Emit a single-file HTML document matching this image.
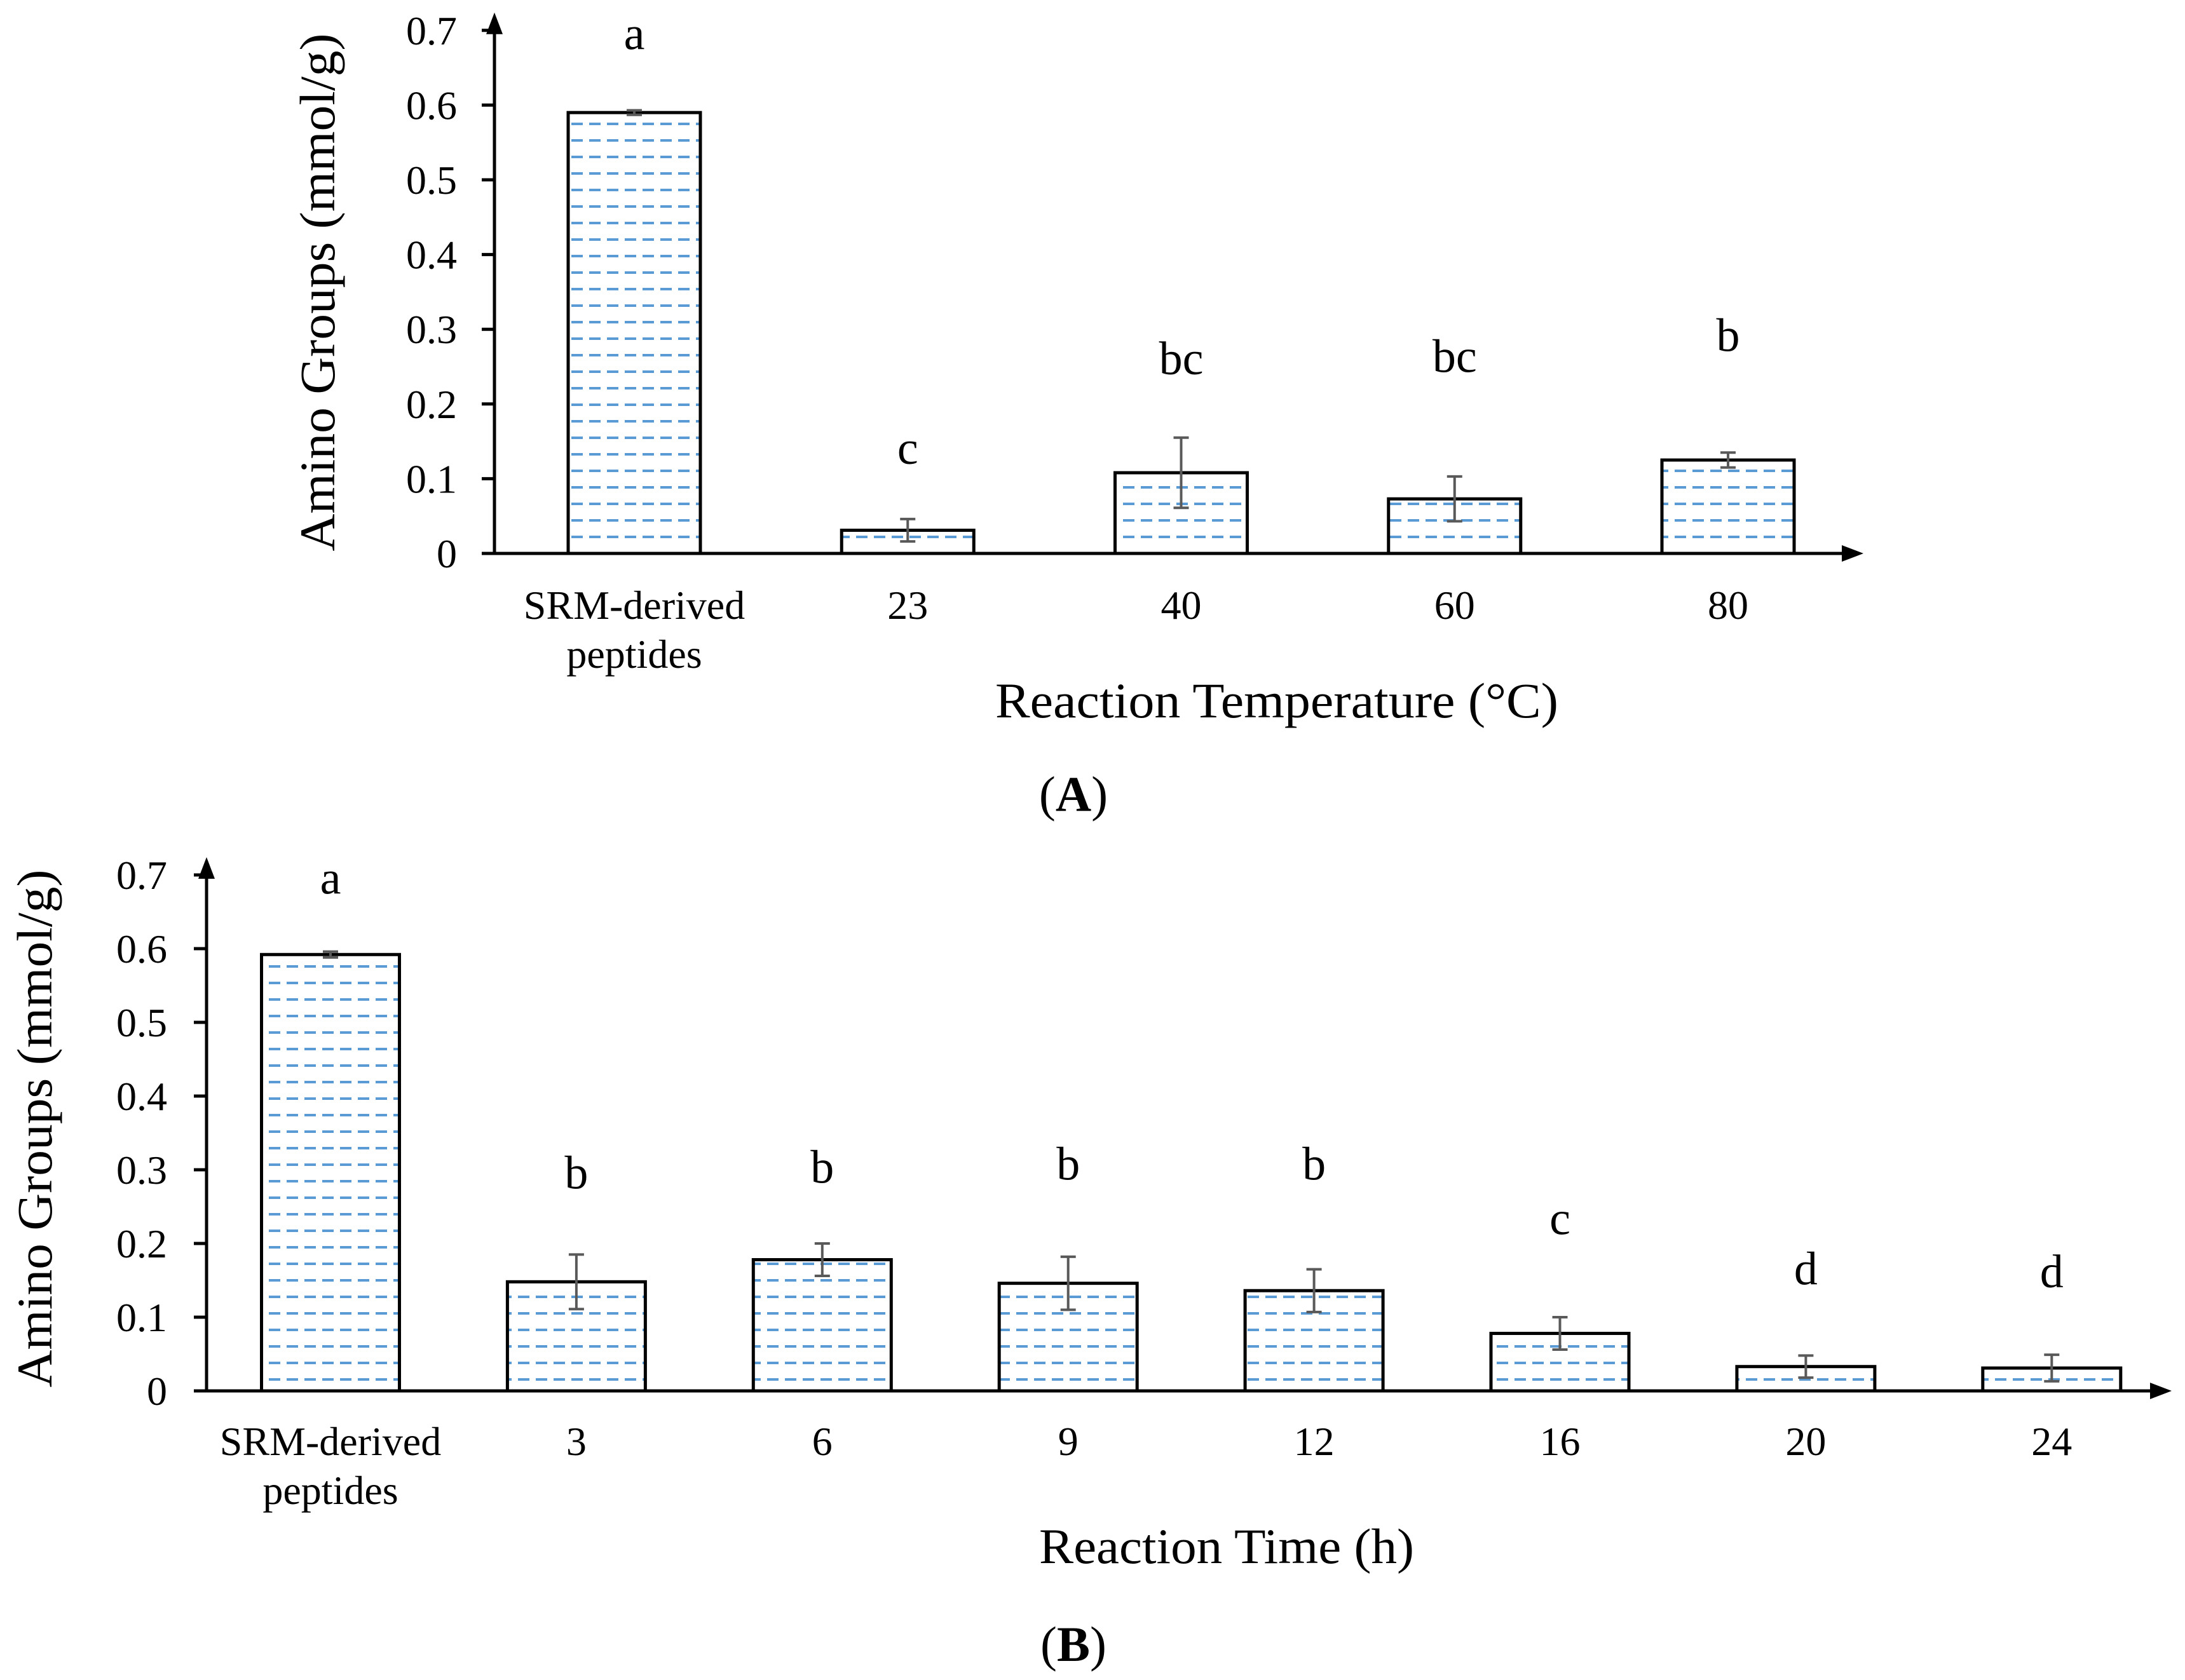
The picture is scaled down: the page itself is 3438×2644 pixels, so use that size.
<!DOCTYPE html>
<html><head><meta charset="utf-8"><style>
html,body{margin:0;padding:0;background:#fff;}
svg{display:block;font-family:"Liberation Serif",serif;}
</style></head><body>
<svg id="fig" width="3438" height="2644" viewBox="0 0 3438 2644" xmlns="http://www.w3.org/2000/svg">
<defs>
<pattern id="hatch" patternUnits="userSpaceOnUse" width="28" height="26">
<line x1="3" y1="13" x2="21" y2="13" stroke="#5b9bd5" stroke-width="4"/>
</pattern>
</defs>
</svg>
<script>
// ---- Chart A data ----
const catsA = ["SRM-derived|peptides","23","40","60","80"];
const valsA = [0.59, 0.031, 0.108, 0.073, 0.125];
const errA = [0.003, 0.015, 0.047, 0.03, 0.01];
const lettersA = ["a","c","bc","bc","b"];
const letterValA = [0.69, 0.135, 0.255, 0.258, 0.286];
// ---- Chart B data ----
const catsB = ["SRM-derived|peptides","3","6","9","12","16","20","24"];
const valsB = [0.592, 0.148, 0.178, 0.146, 0.136, 0.078, 0.033, 0.031];
const errB = [0.004, 0.037, 0.022, 0.036, 0.029, 0.022, 0.015, 0.018];
const lettersB = ["a","b","b","b","b","c","d","d"];
const letterValB = [0.69, 0.29, 0.298, 0.302, 0.302, 0.228, 0.16, 0.156];
const ticks = [0,0.1,0.2,0.3,0.4,0.5,0.6,0.7];
const tickLabels = ["0","0.1","0.2","0.3","0.4","0.5","0.6","0.7"];

const svg = document.getElementById('fig');
const NS = "http://www.w3.org/2000/svg";
function mk(tag, attrs, parent){
  const e = document.createElementNS(NS, tag);
  for (const k in attrs) e.setAttribute(k, attrs[k]);
  (parent||svg).appendChild(e);
  return e;
}

function chart(cfg){
  const g = mk('g', {});
  
  
  const y = v => cfg.y0 - v / 0.1 * cfg.per;
  const x = i => cfg.x0 + i * cfg.step;
  cfg.vals.forEach((v,i)=>{
    const b = mk('rect', {x:x(i)-cfg.bw/2, y:y(v), width:cfg.bw, height:cfg.y0-y(v), fill:'url(#hatch)', stroke:'#000', 'stroke-width':5}, g);
    
    
  });
  cfg.vals.forEach((v,i)=>{
    const e = cfg.err[i], cx = x(i);
    const eg = mk('g', {stroke:'#595959','stroke-width':4}, g);
    
    
    mk('line',{x1:cx,x2:cx,y1:y(v-e),y2:y(v+e)},eg);
    mk('line',{x1:cx-12,x2:cx+12,y1:y(v-e),y2:y(v-e)},eg);
    mk('line',{x1:cx-12,x2:cx+12,y1:y(v+e),y2:y(v+e)},eg);
  });
  cfg.letters.forEach((l,i)=>{
    const t = mk('text',{x:x(i), y:y(cfg.letterVal[i])+18, 'font-size':74, 'text-anchor':'middle'}, g);
    t.textContent = l;
    
    
  });
  const ax = mk('g',{stroke:'#000','stroke-width':5}, g);
  
  
  mk('line',{x1:cfg.ax,x2:cfg.ax,y1:cfg.y0,y2:y(0.7)-5},ax);
  mk('line',{x1:cfg.ax-20,x2:cfg.xend-25,y1:cfg.y0,y2:cfg.y0},ax);
  mk('polygon',{points:`${cfg.ax-13},${y(0.7)+6} ${cfg.ax+13},${y(0.7)+6} ${cfg.ax},${y(0.7)-28}`,fill:'#000','stroke-width':0},ax);
  mk('polygon',{points:`${cfg.xend-34},${cfg.y0-13} ${cfg.xend-34},${cfg.y0+13} ${cfg.xend},${cfg.y0}`,fill:'#000','stroke-width':0},ax);
  ticks.forEach((tv,i)=>{
    mk('line',{x1:cfg.ax-20,x2:cfg.ax,y1:y(tv),y2:y(tv)},ax);
    const t = mk('text',{x:cfg.tickRight, y:y(tv)+22, 'font-size':64, 'text-anchor':'end'}, g);
    t.textContent = tickLabels[i];
    
    
  });
  cfg.cats.forEach((c,i)=>{
    const parts = c.split('|');
    parts.forEach((p,j)=>{
      const t = mk('text',{x:x(i), y:cfg.labY[j]+20, 'font-size':64, 'text-anchor':'middle'}, g);
      t.textContent = p;
      
      
    });
  });
  const yt = mk('text',{x:0,y:0,'font-size':78,'text-anchor':'middle',textLength:815,lengthAdjust:'spacingAndGlyphs',transform:`translate(${cfg.ytx+26},${cfg.yty}) rotate(-90)`}, g);
  yt.textContent = 'Amino Groups (mmol/g)';
  
  
  const xt = mk('text',{x:cfg.xtx,y:cfg.xty+26,'font-size':78,'text-anchor':'middle',textLength:cfg.xtLen,lengthAdjust:'spacingAndGlyphs'}, g);
  xt.textContent = cfg.xtitle;
  
  
  const pl = mk('text',{x:1689,y:cfg.panelY+26,'font-size':78,'text-anchor':'middle'}, g);
  pl.innerHTML = '(<tspan font-weight="bold">' + cfg.panel + '</tspan>)';
  
  
}

chart({name:'chart-a-temperature', prefix:'a', cats:catsA, vals:valsA, err:errA, letters:lettersA, letterVal:letterValA,
  x0:998, step:430.25, bw:208, y0:871, per:117.6, ax:778, xend:2932, tickRight:719, labY:[954,1031],
  ytx:500, yty:460, xtx:2009, xty:1103, xtLen:886, xtitle:'Reaction Temperature (°C)', panel:'A', panelY:1250});
chart({name:'chart-b-time', prefix:'b', cats:catsB, vals:valsB, err:errB, letters:lettersB, letterVal:letterValB,
  x0:520, step:386.9, bw:217, y0:2189, per:116, ax:325, xend:3417, tickRight:263, labY:[2270,2347],
  ytx:55, yty:1776, xtx:1930, xty:2434, xtLen:590, xtitle:'Reaction Time (h)', panel:'B', panelY:2588});
</script>
</body></html>
